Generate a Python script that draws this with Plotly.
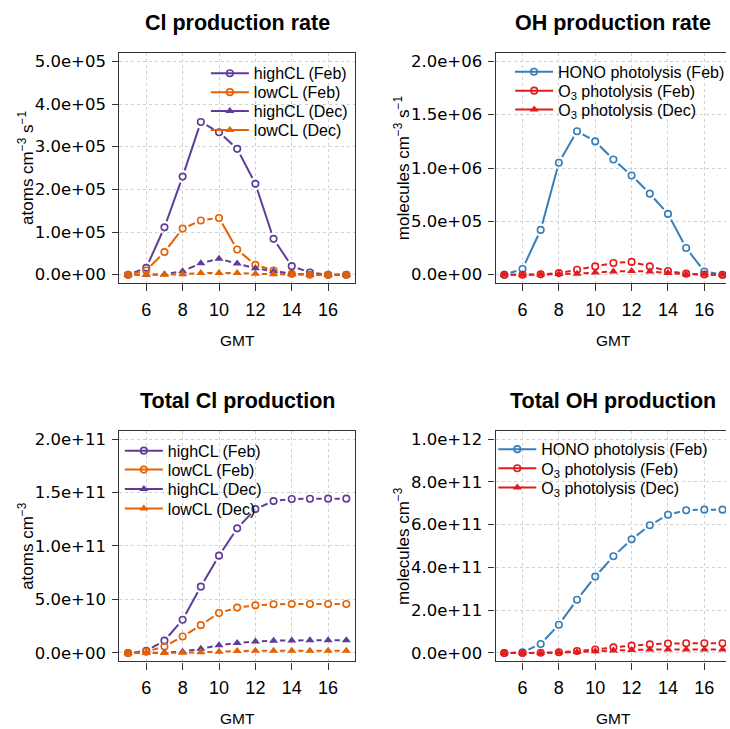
import math
import plotly.graph_objects as go

# ---------------- data ----------------
hours = [5, 6, 7, 8, 9, 10, 11, 12, 13, 14, 15, 16, 17]

# Cl production rate (atoms cm-3 s-1)
cl_rate_high_feb = [0, 0.16e5, 1.11e5, 2.30e5, 3.58e5, 3.34e5, 2.95e5, 2.13e5, 0.84e5, 0.20e5, 0.05e5, 0, 0]
cl_rate_low_feb = [0, 0.10e5, 0.53e5, 1.08e5, 1.27e5, 1.33e5, 0.59e5, 0.23e5, 0.10e5, 0.02e5, 0, 0, 0]
cl_rate_high_dec = [0, 0, 0.01e5, 0.08e5, 0.27e5, 0.375e5, 0.26e5, 0.15e5, 0.08e5, 0.02e5, 0.005e5, 0, 0]
cl_rate_low_dec = [0, 0, 0, 0.01e5, 0.04e5, 0.04e5, 0.04e5, 0.02e5, 0.01e5, 0.005e5, 0, 0, 0]

# OH production rate (molecules cm-3 s-1)
oh_rate_hono_feb = [0, 0.053e6, 0.42e6, 1.05e6, 1.345e6, 1.25e6, 1.08e6, 0.93e6, 0.76e6, 0.57e6, 0.25e6, 0.03e6, 0]
oh_rate_o3_feb = [0, 0, 0.003e6, 0.015e6, 0.047e6, 0.078e6, 0.11e6, 0.12e6, 0.078e6, 0.034e6, 0.01e6, 0.002e6, 0]
oh_rate_o3_dec = [0, 0, 0.001e6, 0.006e6, 0.01e6, 0.02e6, 0.03e6, 0.034e6, 0.03e6, 0.015e6, 0.005e6, 0.001e6, 0]

# Total Cl production (atoms cm-3)
cl_tot_high_feb = [0, 0.02e11, 0.115e11, 0.31e11, 0.62e11, 0.91e11, 1.165e11, 1.345e11, 1.42e11, 1.44e11, 1.442e11, 1.443e11, 1.443e11]
cl_tot_low_feb = [0, 0.012e11, 0.06e11, 0.153e11, 0.26e11, 0.374e11, 0.424e11, 0.445e11, 0.455e11, 0.458e11, 0.458e11, 0.458e11, 0.458e11]
cl_tot_high_dec = [0, 0, 0.003e11, 0.012e11, 0.04e11, 0.072e11, 0.093e11, 0.106e11, 0.115e11, 0.117e11, 0.118e11, 0.118e11, 0.118e11]
cl_tot_low_dec = [0, 0, 0, 0.002e11, 0.006e11, 0.012e11, 0.018e11, 0.02e11, 0.02e11, 0.02e11, 0.02e11, 0.02e11, 0.02e11]

# Total OH production (molecules cm-3)
oh_tot_hono_feb = [0, 0.03e11, 0.42e11, 1.32e11, 2.49e11, 3.57e11, 4.52e11, 5.31e11, 5.97e11, 6.46e11, 6.67e11, 6.70e11, 6.70e11]
oh_tot_o3_feb = [0, 0, 0.005e11, 0.03e11, 0.09e11, 0.16e11, 0.26e11, 0.34e11, 0.40e11, 0.44e11, 0.45e11, 0.45e11, 0.45e11]
oh_tot_o3_dec = [0, 0, 0.002e11, 0.015e11, 0.04e11, 0.08e11, 0.11e11, 0.14e11, 0.16e11, 0.16e11, 0.16e11, 0.16e11, 0.16e11]

x_ticks = [6, 8, 10, 12, 14, 16]
y_ticks_cl_rate = [0, 1e5, 2e5, 3e5, 4e5, 5e5]
y_ticks_oh_rate = [0, 5e5, 1e6, 1.5e6, 2e6]
y_ticks_cl_tot = [0, 5e10, 1e11, 1.5e11, 2e11]
y_ticks_oh_tot = [0, 2e11, 4e11, 6e11, 8e11, 1e12]

labels_cl = ["highCL (Feb)", "lowCL (Feb)", "highCL (Dec)", "lowCL (Dec)"]
labels_oh = ["HONO photolysis (Feb)", "O<sub>3</sub> photolysis (Feb)", "O<sub>3</sub> photolysis (Dec)"]

titles = ["Cl production rate", "OH production rate", "Total Cl production", "Total OH production"]
ytitles = ["atoms cm<sup>\u22123</sup> s<sup>\u22121</sup>",
           "molecules cm<sup>\u22123</sup> s<sup>\u22121</sup>",
           "atoms cm<sup>\u22123</sup>",
           "molecules cm<sup>\u22123</sup>"]

PURPLE = "#5e3c99"
ORANGE = "#e66101"
BLUE = "#377eb8"
RED = "#e41a1c"

# ---------------- layout geometry (pixels) ----------------
W, H = 730, 729
PX_PER_HR = 237 / 12.96
panels = {
    1: dict(x0=120, x1=357, y0=52, y1=283, yr=[-0.02e6, 0.52e6], leg_x=207, leg_y=[72.5, 91.5, 110.5, 129.5]),
    2: dict(x0=498.3, x1=730, y0=52, y1=283, yr=[-0.08e6, 2.08e6], leg_x=513, leg_y=[71, 90, 109]),
    3: dict(x0=120, x1=357, y0=430.7, y1=662.3, yr=[-0.08e11, 2.08e11], leg_x=120.5, leg_y=[451, 470, 489.5, 509]),
    4: dict(x0=498.3, x1=730, y0=430.7, y1=662.3, yr=[-0.04e12, 1.04e12], leg_x=496, leg_y=[449.5, 468.7, 488]),
}
for p in panels.values():
    p["xr"] = [4.52, 4.52 + (p["x1"] - p["x0"]) / PX_PER_HR]

FONT = "Liberation Sans, Arial, sans-serif"

fig = go.Figure()
legend_defs = {}
leg_counter = [0]


def gapped(xs, ys, p, g=6.5):
    sx = (p["x1"] - p["x0"]) / (p["xr"][1] - p["xr"][0])
    sy = (p["y1"] - p["y0"]) / (p["yr"][1] - p["yr"][0])
    gx, gy = [], []
    for i in range(len(xs) - 1):
        dx, dy = xs[i + 1] - xs[i], ys[i + 1] - ys[i]
        d = math.hypot(dx * sx, dy * sy)
        if d <= 2 * g:
            continue
        f = g / d
        gx += [xs[i] + dx * f, xs[i + 1] - dx * f, None]
        gy += [ys[i] + dy * f, ys[i + 1] - dy * f, None]
    return gx, gy


def add_series(k, idx, ys, color, symbol, name):
    p = panels[k]
    ax = "" if k == 1 else str(k)
    gx, gy = gapped(hours, ys, p)
    fig.add_trace(go.Scatter(x=gx, y=gy, mode="lines", line=dict(color=color, width=2),
                             xaxis="x" + ax, yaxis="y" + ax, showlegend=False, hoverinfo="skip"))
    if symbol == "circle-open":
        mk = dict(symbol="circle-open", size=6.5, color=color, line=dict(width=1.6, color=color))
    else:
        mk = dict(symbol="triangle-up", size=8, color=color, line=dict(width=0))
    fig.add_trace(go.Scatter(x=hours, y=ys, mode="markers", marker=mk,
                             xaxis="x" + ax, yaxis="y" + ax, showlegend=False))
    # legend entry (one legend per entry, to control row spacing)
    leg_counter[0] += 1
    lname = "legend" if leg_counter[0] == 1 else "legend%d" % leg_counter[0]
    legend_defs[lname] = dict(x=p["leg_x"] / W, y=1 - p["leg_y"][idx] / H)
    fig.add_trace(go.Scatter(x=[None], y=[None], mode="lines+markers", name=name,
                             line=dict(color=color, width=2), marker=mk,
                             xaxis="x" + ax, yaxis="y" + ax, legend=lname, showlegend=True))


add_series(1, 0, cl_rate_high_feb, PURPLE, "circle-open", labels_cl[0])
add_series(1, 1, cl_rate_low_feb, ORANGE, "circle-open", labels_cl[1])
add_series(1, 2, cl_rate_high_dec, PURPLE, "triangle-up", labels_cl[2])
add_series(1, 3, cl_rate_low_dec, ORANGE, "triangle-up", labels_cl[3])

add_series(2, 0, oh_rate_hono_feb, BLUE, "circle-open", labels_oh[0])
add_series(2, 1, oh_rate_o3_feb, RED, "circle-open", labels_oh[1])
add_series(2, 2, oh_rate_o3_dec, RED, "triangle-up", labels_oh[2])

add_series(3, 0, cl_tot_high_feb, PURPLE, "circle-open", labels_cl[0])
add_series(3, 1, cl_tot_low_feb, ORANGE, "circle-open", labels_cl[1])
add_series(3, 2, cl_tot_high_dec, PURPLE, "triangle-up", labels_cl[2])
add_series(3, 3, cl_tot_low_dec, ORANGE, "triangle-up", labels_cl[3])

add_series(4, 0, oh_tot_hono_feb, BLUE, "circle-open", labels_oh[0])
add_series(4, 1, oh_tot_o3_feb, RED, "circle-open", labels_oh[1])
add_series(4, 2, oh_tot_o3_dec, RED, "triangle-up", labels_oh[2])

yticks = {1: y_ticks_cl_rate, 2: y_ticks_oh_rate, 3: y_ticks_cl_tot, 4: y_ticks_oh_tot}

layout = dict(width=W, height=H, margin=dict(l=0, r=0, t=0, b=0),
              paper_bgcolor="white", plot_bgcolor="white",
              font=dict(family=FONT, color="black"), annotations=[])

for k, p in panels.items():
    ax = "" if k == 1 else str(k)
    right = k in (2, 4)
    layout["xaxis" + ax] = dict(
        domain=[p["x0"] / W, p["x1"] / W], range=p["xr"], anchor="y" + ax,
        tickvals=x_ticks, ticktext=[str(v) for v in x_ticks],
        ticks="outside", ticklen=7, tickwidth=1, tickcolor="#333",
        showline=True, mirror=True, linecolor="#333", linewidth=1.2,
        showgrid=True, gridcolor="#d0d0d0", griddash="dot", gridwidth=1,
        zeroline=False, tickfont=dict(size=18), ticklabelstandoff=3)
    layout["yaxis" + ax] = dict(
        domain=[1 - p["y1"] / H, 1 - p["y0"] / H], range=p["yr"], anchor="x" + ax,
        tickvals=yticks[k], ticktext=[f"{v:.1e}" for v in yticks[k]],
        ticks="outside", ticklen=6, tickwidth=1, tickcolor="#333",
        showline=True, mirror=not right, linecolor="#333", linewidth=1.2,
        showgrid=True, gridcolor="#d0d0d0", griddash="dot", gridwidth=1,
        zeroline=False, tickfont=dict(size=16.5, family="DejaVu Sans"), ticklabelstandoff=3)
    cx = (p["x0"] + (p["x0"] + 237)) / 2
    ann = layout["annotations"]
    ann.append(dict(text="<b>" + titles[k - 1] + "</b>", x=cx / W, y=1 - (p["y0"] - 30) / H,
                    xref="paper", yref="paper", showarrow=False, xanchor="center", yanchor="middle",
                    font=dict(size=21.5)))
    ann.append(dict(text="GMT", x=cx / W, y=1 - (p["y1"] + 57) / H,
                    xref="paper", yref="paper", showarrow=False, xanchor="center", yanchor="middle",
                    font=dict(size=15.5)))
    ann.append(dict(text=ytitles[k - 1], x=(p["x0"] - 94) / W, y=1 - ((p["y0"] + p["y1"]) / 2) / H,
                    xref="paper", yref="paper", showarrow=False, xanchor="center", yanchor="middle",
                    textangle=-90, font=dict(size=17)))

for lname, pos in legend_defs.items():
    layout[lname] = dict(bgcolor="rgba(0,0,0,0)", borderwidth=0, font=dict(size=16),
                         xanchor="left", yanchor="middle", itemwidth=38, itemclick=False,
                         x=pos["x"], y=pos["y"])

fig.update_layout(**layout)
fig.write_html("out.html")
